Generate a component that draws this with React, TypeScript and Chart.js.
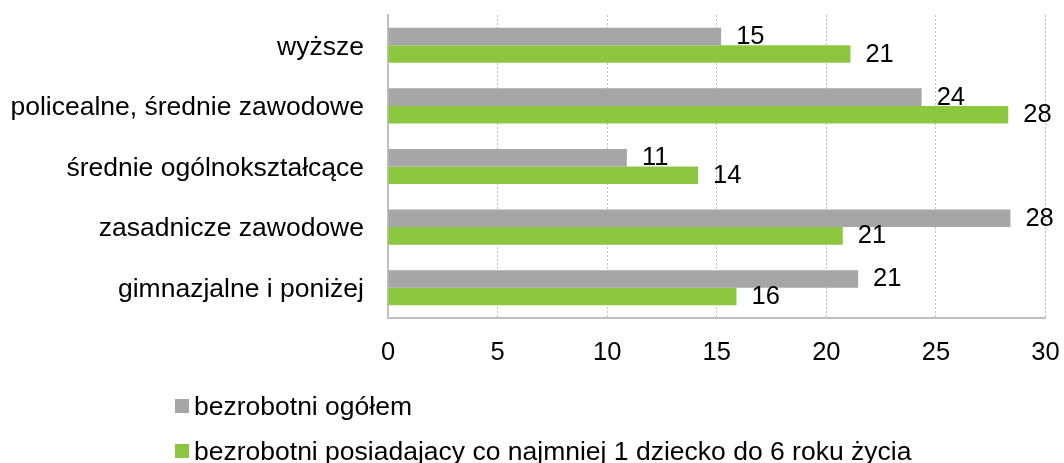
import React, { useEffect, useRef } from "react";
import { Chart, registerables } from "chart.js";

Chart.register(...registerables);

const categories = [
  "wyższe",
  "policealne, średnie zawodowe",
  "średnie ogólnokształcące",
  "zasadnicze zawodowe",
  "gimnazjalne i poniżej",
];
const seriesNames = [
  "bezrobotni ogółem",
  "bezrobotni posiadajacy co najmniej 1 dziecko do 6 roku życia",
];
const totalValues = [15.2, 24.35, 10.9, 28.4, 21.45];
const parentValues = [21.1, 28.3, 14.15, 20.75, 15.9];
const xMin = 0;
const xMax = 30;
const xStep = 5;
const seriesColors = ["#A6A6A6", "#8DC63F"];

const FONT = '"Liberation Sans", Arial, sans-serif';

const valueLabels = {
  id: "valueLabels",
  afterDatasetsDraw(chart: any) {
    const ctx = chart.ctx;
    ctx.save();
    ctx.font = `25.5px ${FONT}`;
    ctx.fillStyle = "#000000";
    ctx.textAlign = "left";
    ctx.textBaseline = "middle";
    chart.data.datasets.forEach((ds: any, di: number) => {
      const meta = chart.getDatasetMeta(di);
      meta.data.forEach((bar: any, i: number) => {
        const v = ds.data[i] as number;
        ctx.fillText(String(Math.round(v)), bar.x + 15, bar.y + 0.5);
      });
    });
    ctx.restore();
  },
};

const stackedLegend = {
  id: "stackedLegend",
  afterDraw(chart: any) {
    const ctx = chart.ctx;
    ctx.save();
    ctx.font = `26.5px ${FONT}`;
    ctx.textAlign = "left";
    ctx.textBaseline = "middle";
    const boxX = 175;
    const boxSize = 14;
    const firstY = 407.5;
    const rowGap = 45;
    chart.data.datasets.forEach((ds: any, di: number) => {
      const cy = firstY + di * rowGap;
      ctx.fillStyle = ds.backgroundColor;
      ctx.fillRect(boxX, cy - 1.5 - boxSize / 2, boxSize, boxSize);
      ctx.fillStyle = "#000000";
      ctx.fillText(ds.label, boxX + boxSize + 5, cy);
    });
    ctx.restore();
  },
};

export default function App() {
  const canvasRef = useRef<HTMLCanvasElement | null>(null);

  useEffect(() => {
    if (!canvasRef.current) return;
    const chart = new Chart(canvasRef.current, {
      type: "bar",
      data: {
        labels: categories,
        datasets: [
          {
            label: seriesNames[0],
            data: totalValues,
            backgroundColor: seriesColors[0],
            categoryPercentage: 0.58,
            barPercentage: 1.0,
          },
          {
            label: seriesNames[1],
            data: parentValues,
            backgroundColor: seriesColors[1],
            categoryPercentage: 0.58,
            barPercentage: 1.0,
          },
        ],
      },
      options: {
        indexAxis: "y",
        animation: false,
        responsive: false,
        maintainAspectRatio: false,
        devicePixelRatio: 1,
        layout: {
          padding: { top: 15, right: 18.5, bottom: 75, left: 0 },
        },
        plugins: {
          legend: { display: false },
          tooltip: { enabled: false },
          title: { display: false },
        },
        scales: {
          x: {
            type: "linear",
            position: "bottom",
            min: xMin,
            max: xMax,
            ticks: {
              stepSize: xStep,
              padding: 20,
              color: "#000000",
              font: { family: FONT, size: 25.5 },
              maxRotation: 0,
              autoSkip: false,
            },
            grid: {
              drawTicks: false,
              lineWidth: 1,
              color: (c: any) => (c.index === 0 ? "rgba(0,0,0,0)" : "#BFBFBF"),
            },
            border: { display: true, color: "#BFBFBF", width: 2, dash: [2, 2] },
            afterFit: (scale: any) => {
              scale.height = 70;
              scale.paddingLeft = 0;
              scale.paddingRight = 0;
            },
          },
          y: {
            type: "category",
            position: "left",
            ticks: {
              padding: 24,
              labelOffset: 2,
              color: "#000000",
              font: { family: FONT, size: 26.5 },
              autoSkip: false,
            },
            grid: { display: false, drawTicks: false },
            border: { display: true, color: "#BFBFBF", width: 2 },
            afterFit: (scale: any) => {
              scale.width = 388;
              scale.paddingTop = 0;
              scale.paddingBottom = 0;
            },
          },
        },
      },
      plugins: [valueLabels, stackedLegend],
    });
    return () => chart.destroy();
  }, []);

  return (
    <div
      style={{
        position: "fixed",
        left: 0,
        top: 0,
        width: 1064,
        height: 463,
        background: "#ffffff",
      }}
    >
      <canvas
        ref={canvasRef}
        width={1064}
        height={463}
        style={{ width: 1064, height: 463, display: "block" }}
      />
    </div>
  );
}
